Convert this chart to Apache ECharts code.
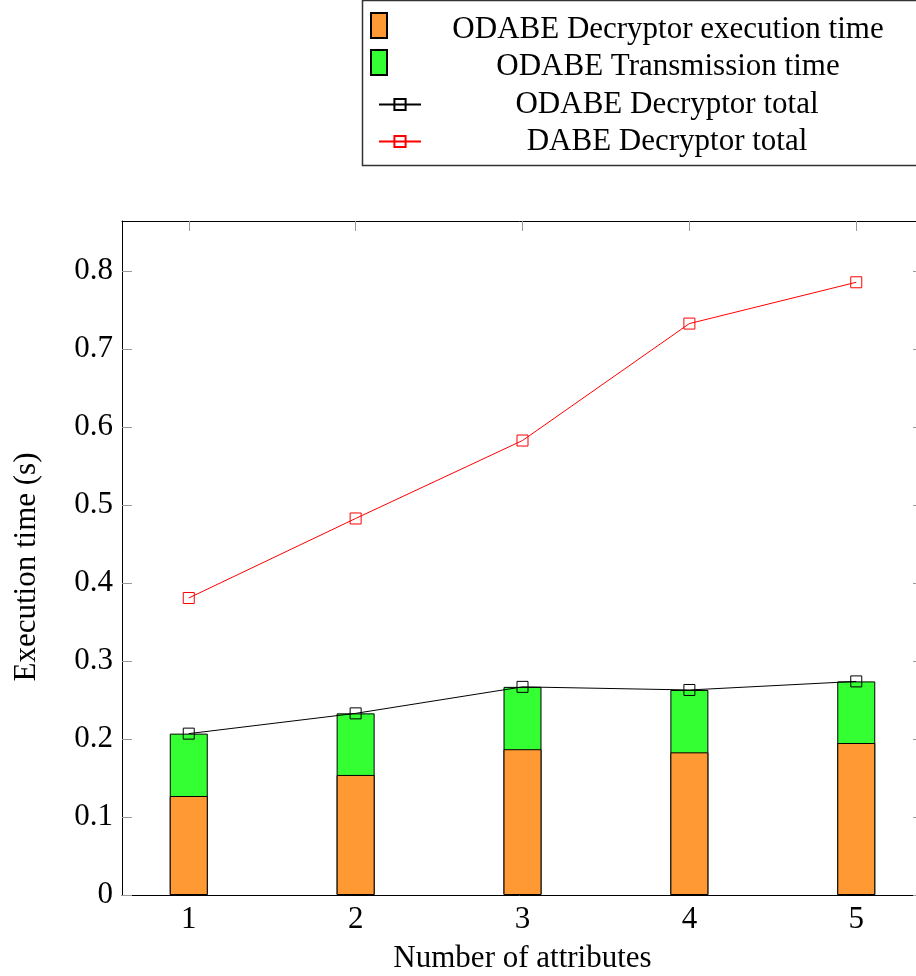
<!DOCTYPE html>
<html><head><meta charset="utf-8">
<script src="https://cdn.jsdelivr.net/npm/echarts@6/dist/echarts.min.js"></script>
<style>html,body{margin:0;padding:0;background:#fff}#c{width:916px;height:976px}</style>
</head><body><div id="c"></div>
<script>
var attributes = [1, 2, 3, 4, 5];
var odabeExec = [0.127, 0.154, 0.187, 0.183, 0.195];
var odabeTrans = [0.080, 0.079, 0.080, 0.080, 0.079];
var odabeTotal = [0.207, 0.233, 0.267, 0.263, 0.274];
var dabeTotal = [0.381, 0.483, 0.583, 0.733, 0.786];
var yTicks = [0, 0.1, 0.2, 0.3, 0.4, 0.5, 0.6, 0.7, 0.8];

var FONT = 'Liberation Serif';
var FS = 31;
function pairs(vals) { return attributes.map(function (a, i) { return [a, vals[i]]; }); }
var stackTop = odabeExec.map(function (v, i) { return v + odabeTrans[i]; });
var tickStyle = { show: true, inside: true, length: 10, lineStyle: { color: '#999', width: 1 } };

var chart = echarts.init(document.getElementById('c'));
chart.setOption({
  animation: false,
  backgroundColor: '#fff',
  grid: { left: 122, top: 221, bottom: 81, right: -7, containLabel: false, outerBoundsMode: 'none' },
  graphic: [{ type: 'rect', shape: { x: 362.5, y: 0.5, width: 560, height: 165 }, style: { fill: 'none', stroke: '#333', lineWidth: 1.5 }, z: 100 }],
  legend: [{
    data: ['ODABE Decryptor execution time', 'ODABE Transmission time'],
    orient: 'vertical', left: 370, top: 6, padding: 0,
    itemWidth: 16, itemHeight: 25, itemGap: -2, icon: 'rect',
    formatter: function (n) { return '{t|' + n + '}'; },
    textStyle: { rich: { t: { width: 552, align: 'center', fontFamily: FONT, fontSize: FS, lineHeight: 25, padding: [8, 0, 0, 0], color: '#000' } } }
  }, {
    data: ['ODABE Decryptor total', 'DABE Decryptor total'],
    orient: 'vertical', left: 378, top: 89, padding: 0,
    itemWidth: 42, itemHeight: 14, itemGap: 6,
    formatter: function (n) { return '{t|' + n + '}'; },
    textStyle: { rich: { t: { width: 482, align: 'center', fontFamily: FONT, fontSize: FS, lineHeight: 25, padding: [0, 0, 0, 0], color: '#000' } } }
  }],
  xAxis: [{
    type: 'value', min: 0.6, max: 5.4, position: 'bottom',
    name: 'Number of attributes', nameLocation: 'middle', nameGap: 48,
    nameTextStyle: { fontFamily: FONT, fontSize: FS, color: '#000' },
    axisLine: { show: true, onZero: false, lineStyle: { color: '#000', width: 1 } },
    axisTick: Object.assign({ customValues: attributes }, tickStyle),
    axisLabel: { customValues: attributes, margin: 9, fontFamily: FONT, fontSize: FS, color: '#000' },
    splitLine: { show: false }
  }, {
    type: 'value', min: 0.6, max: 5.4, position: 'top',
    axisLine: { show: true, onZero: false, lineStyle: { color: '#000', width: 1 } },
    axisTick: Object.assign({ customValues: attributes }, tickStyle),
    axisLabel: { show: false },
    splitLine: { show: false }
  }],
  yAxis: [{
    type: 'value', min: 0, max: 0.8646, position: 'left',
    name: 'Execution time (s)', nameLocation: 'middle', nameGap: 80,
    nameTextStyle: { fontFamily: FONT, fontSize: FS, color: '#000', padding: [0, 18, 0, 0] },
    axisLine: { show: true, lineStyle: { color: '#000', width: 1 } },
    axisTick: Object.assign({ customValues: yTicks }, tickStyle),
    axisLabel: { customValues: yTicks, margin: 9, fontFamily: FONT, fontSize: FS, color: '#000',
      formatter: function (v) { return String(Math.round(v * 10) / 10); } },
    splitLine: { show: false }
  }, {
    type: 'value', min: 0, max: 0.8646, position: 'right',
    axisLine: { show: true, lineStyle: { color: '#000', width: 1 } },
    axisTick: Object.assign({ customValues: yTicks }, tickStyle),
    axisLabel: { show: false },
    splitLine: { show: false }
  }],
  series: [{
    name: 'ODABE Transmission time', type: 'bar', barWidth: 38, barGap: '-100%',
    data: pairs(stackTop), z: 2,
    itemStyle: { color: '#33FF33', borderColor: '#000', borderWidth: 1 }
  }, {
    name: 'ODABE Decryptor execution time', type: 'bar', barWidth: 38, barGap: '-100%',
    data: pairs(odabeExec), z: 3,
    itemStyle: { color: '#FF9933', borderColor: '#000', borderWidth: 1 }
  }, {
    name: 'ODABE Decryptor total', type: 'line', data: pairs(odabeTotal),
    symbol: 'rect', symbolSize: 11, z: 5,
    lineStyle: { color: '#000', width: 1 },
    itemStyle: { color: 'rgba(0,0,0,0)', borderColor: '#000', borderWidth: 1 }
  }, {
    name: 'DABE Decryptor total', type: 'line', data: pairs(dabeTotal),
    symbol: 'rect', symbolSize: 11, z: 5,
    lineStyle: { color: '#FF0000', width: 1 },
    itemStyle: { color: 'rgba(0,0,0,0)', borderColor: '#FF0000', borderWidth: 1 }
  }]
});
</script></body></html>
